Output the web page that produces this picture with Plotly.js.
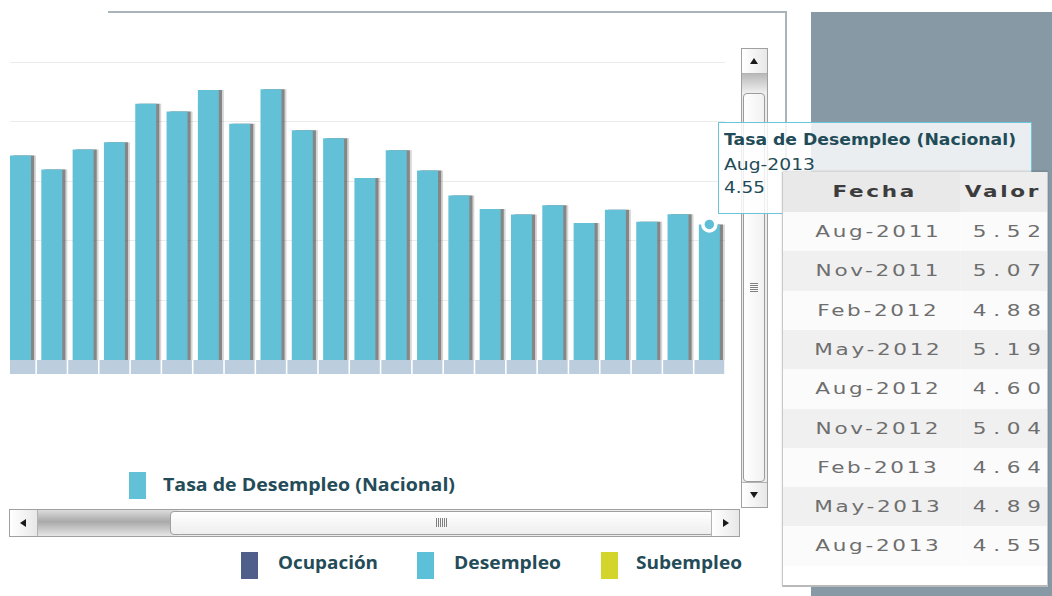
<!DOCTYPE html>
<html><head><meta charset="utf-8">
<script src="https://cdn.plot.ly/plotly-3.0.1.min.js"></script>
<style>
html,body{margin:0;padding:0;background:#fff;width:1052px;height:596px;overflow:hidden;position:relative;font-family:'DejaVu Sans',sans-serif;}
.abs{position:absolute;}
#chart{left:0;top:0;width:740px;height:400px;z-index:2;}
#panel{left:811px;top:12px;width:241px;height:584px;background:#8699a4;z-index:0;}
#frameTop{left:108px;top:11px;width:679px;height:2px;background:#a9b3b8;z-index:1;}
#frameRight{left:785px;top:11px;width:2px;height:540px;background:#a9b3b8;z-index:1;}
.txt{position:absolute;white-space:nowrap;line-height:20px;}
.leg{font-family:'Open Sans',sans-serif;font-weight:700;font-size:17px;color:#244c58;}
.sw{position:absolute;width:17px;height:27px;}
#tooltip{left:718px;top:122px;width:312px;height:90px;border:1.5px solid #6ac5db;background:rgba(255,255,255,0.83);z-index:4;}
.tt{font-family:'DejaVu Sans',sans-serif;font-size:16px;color:#1f4c58;z-index:5;}
#tablebox{left:782px;top:172px;width:264px;height:413px;border-left:1px solid #c9c9c9;border-right:1px solid #c9c9c9;border-bottom:2px solid #b9b9b9;background:#fff;z-index:6;box-shadow:0 -1px 2px rgba(0,0,0,0.15);overflow:hidden;}
#table{left:0;top:0;width:196px;height:413px;transform-origin:0 0;}
/* scrollbars */
#vscroll{left:741px;top:48px;width:25px;height:458px;border:1px solid #a0a0a0;background:#ececec;z-index:3;}
#hscroll{left:9px;top:509px;width:729px;height:26px;border:1px solid #a0a0a0;background:#ececec;z-index:3;}
.btn{position:absolute;background:linear-gradient(to right,#ffffff,#e8e8e8);}
.tri-up{position:absolute;width:0;height:0;border-left:4px solid transparent;border-right:4px solid transparent;border-bottom:6px solid #1a1a1a;}
.tri-down{position:absolute;width:0;height:0;border-left:4px solid transparent;border-right:4px solid transparent;border-top:6px solid #1a1a1a;}
.tri-left{position:absolute;width:0;height:0;border-top:4px solid transparent;border-bottom:4px solid transparent;border-right:6px solid #1a1a1a;}
.tri-right{position:absolute;width:0;height:0;border-top:4px solid transparent;border-bottom:4px solid transparent;border-left:6px solid #1a1a1a;}
</style>
</head>
<body>
<div id="panel" class="abs"></div>
<div id="frameTop" class="abs"></div>
<div id="frameRight" class="abs"></div>
<div id="chart" class="abs"></div>

<div id="vscroll" class="abs">
  <div class="btn" style="left:0;top:0;width:25px;height:24px;border-bottom:1px solid #b3b3b3;"><div class="tri-up" style="left:8px;top:9px;"></div></div>
  <div class="abs" style="left:0;top:25px;width:25px;height:20px;background:linear-gradient(to bottom,#b9b9b9,#f2f2f2);"></div>
  <div class="abs" style="left:1px;top:44px;width:20px;height:387px;border:1px solid #9c9c9c;border-radius:4px;background:linear-gradient(to right,#ffffff,#f1f1f1);">
    <div class="abs" style="left:6px;top:189px;width:8px;height:10px;background:repeating-linear-gradient(to bottom,#808080 0 1px,transparent 1px 2px);"></div>
  </div>
  <div class="btn" style="left:0;bottom:0;width:25px;height:24px;border-top:1px solid #b3b3b3;"><div class="tri-down" style="left:8px;top:9px;"></div></div>
</div>

<div id="hscroll" class="abs">
  <div class="btn" style="left:0;top:0;width:27px;height:26px;border-right:1px solid #b3b3b3;"><div class="tri-left" style="left:10px;top:9px;"></div></div>
  <div class="abs" style="left:28px;top:0;width:140px;height:26px;background:linear-gradient(to bottom,#dcdcdc,#a9a9a9 45%,#e6e6e6);"></div>
  <div class="abs" style="left:160px;top:1px;width:542px;height:22px;border:1px solid #a0a0a0;border-radius:4px;background:linear-gradient(to bottom,#ffffff,#eeeeee);">
    <div class="abs" style="left:265px;top:6px;width:12px;height:9px;background:repeating-linear-gradient(to right,#808080 0 1px,transparent 1px 2px);"></div>
  </div>
  <div class="btn" style="right:0;top:0;width:27px;height:26px;border-left:1px solid #b3b3b3;"><div class="tri-right" style="left:11px;top:9px;"></div></div>
</div>

<div id="legend1"></div>
<div id="legend2"></div>

<div id="tooltip" class="abs"></div>
<div id="ttText"></div>

<div id="tablebox" class="abs"><div id="table" class="abs"></div></div>

<script>
// ---------------- DATA ----------------
const categories = [
  'Feb-2008','May-2008','Aug-2008','Nov-2008',
  'Feb-2009','May-2009','Aug-2009','Nov-2009',
  'Feb-2010','May-2010','Aug-2010','Nov-2010',
  'Feb-2011','May-2011','Aug-2011','Nov-2011',
  'Feb-2012','May-2012','Aug-2012','Nov-2012',
  'Feb-2013','May-2013','Aug-2013'
];
const desempleo = [
  6.86, 6.39, 7.06, 7.31,
  8.60, 8.34, 9.06, 7.93,
  9.09, 7.71, 7.44, 6.11,
  7.04, 6.36, 5.52, 5.07,
  4.88, 5.19, 4.60, 5.04,
  4.64, 4.89, 4.55
];
const seriesName = 'Tasa de Desempleo (Nacional)';
const tableHeader = ['Fecha', 'Valor'];
const tableRowCount = 9;
const groupLegend = ['Ocupación', 'Desempleo', 'Subempleo'];

// ---------------- STYLE ----------------
const barColor = '#63c1d7';
const groupColors = ['#4f5e8b', '#5cc1d8', '#d3d52d'];

// ---------------- MAIN CHART ----------------
const barW = 0.67;
const traces = [
  {type:'bar', x:categories, y:desempleo, width:barW, offset:-barW/2+0.16,
   marker:{color:'rgba(90,90,90,0.25)', line:{width:0}}, hoverinfo:'skip'},
  {type:'bar', x:categories, y:desempleo, width:barW, offset:-barW/2+0.10,
   marker:{color:'rgba(80,80,80,0.6)', line:{width:0}}, hoverinfo:'skip'},
  {type:'bar', x:categories, y:desempleo, width:barW, name:seriesName,
   marker:{color:barColor, line:{width:0}}},
  {type:'bar', x:categories, y:categories.map(() => 1), yaxis:'y2', width:0.95,
   marker:{color:'#bccddd', line:{width:0}}, hoverinfo:'skip'},
  {type:'scatter', mode:'markers', x:[categories[categories.length-1]], y:[desempleo[desempleo.length-1]],
   marker:{size:13, color:'#5fbfd6', line:{color:'#ffffff', width:3.5}}, cliponaxis:false, hoverinfo:'skip'}
];
const layout = {
  width:740, height:400, margin:{l:10, r:15, t:0, b:0},
  paper_bgcolor:'rgba(0,0,0,0)', plot_bgcolor:'rgba(0,0,0,0)',
  showlegend:false, barmode:'overlay',
  xaxis:{type:'category', range:[-0.335, 22.5], showticklabels:false, showgrid:false, zeroline:false, showline:false, ticks:''},
  yaxis:{domain:[0.1, 0.875], range:[0, 10.403], dtick:2, showticklabels:false, gridcolor:'#ebebeb', gridwidth:1, zeroline:false, showline:false, ticks:''},
  yaxis2:{domain:[0.065, 0.1], range:[0, 1], anchor:'x', showgrid:false, showticklabels:false, zeroline:false, showline:false, ticks:''}
};
Plotly.newPlot('chart', traces, layout, {staticPlot:true, displayModeBar:false});

// ---------------- LEGENDS / TOOLTIP (HTML) ----------------
function addText(parent, text, cls, left, top, w, extra) {
  const d = document.createElement('div');
  d.className = 'txt ' + cls;
  d.textContent = text;
  d.style.left = left + 'px'; d.style.top = top + 'px';
  if (w) d.dataset.w = w;
  if (extra) Object.assign(d.style, extra);
  parent.appendChild(d);
  return d;
}
function addSwatch(parent, color, left, top) {
  const s = document.createElement('div');
  s.className = 'sw'; s.style.left = left + 'px'; s.style.top = top + 'px'; s.style.background = color;
  parent.appendChild(s);
}
const L1 = document.getElementById('legend1');
addSwatch(L1, barColor, 129, 472);
addText(L1, seriesName, 'leg', 163, 475, 292);

const L2 = document.getElementById('legend2');
const g2x = [241, 417, 601], g2t = [278, 454, 636], g2w = [100, 107, 106];
groupLegend.forEach((name, i) => {
  addSwatch(L2, groupColors[i], g2x[i], 552);
  addText(L2, name, 'leg', g2t[i], 553, g2w[i]);
});

const TT = document.getElementById('ttText');
addText(TT, seriesName, 'tt', 724, 130, 292, {fontWeight:'bold'});
addText(TT, categories[categories.length-1], 'tt', 724, 155, 91);
addText(TT, desempleo[desempleo.length-1].toFixed(2), 'tt', 724, 178, 41);

function fitAll() {
  document.querySelectorAll('[data-w]').forEach(el => {
    el.style.transform = 'none';
    const w = el.getBoundingClientRect().width;
    el.style.transformOrigin = '0 50%';
    el.style.transform = 'scaleX(' + (+el.dataset.w / w) + ')';
  });
}

// ---------------- TABLE ----------------
const tScale = 264 / 196;
document.getElementById('table').style.transform = 'scaleX(' + tScale + ')';
const tDates = categories.slice(-tableRowCount);
const tVals = desempleo.slice(-tableRowCount).map(v => v.toFixed(2));
const rowFill = tDates.map((_, i) => i % 2 === 0 ? '#fbfbfb' : '#f0f0f0');
Plotly.newPlot('table', [{
  type:'table', columnwidth:[132, 64],
  header:{values:tableHeader.map(h => '<b>' + h + '</b>'), align:['center','right'], height:40,
          fill:{color:['#e9e9e9','#ededed']}, line:{width:0, color:'rgba(0,0,0,0)'},
          font:{family:'DejaVu Sans', size:16, color:'#3c3c3c'}},
  cells:{values:[tDates, tVals], align:['center','right'], height:39.3,
         fill:{color:[rowFill, rowFill]}, line:{width:0, color:'rgba(0,0,0,0)'},
         font:{family:'DejaVu Sans', size:16, color:'#6e6e6e'}},
  domain:{x:[0,1], y:[0,1]}
}], {width:196, height:413, margin:{l:0, r:0, t:0, b:0}, paper_bgcolor:'#ffffff'},
 {staticPlot:true, displayModeBar:false}).then(() => {
  const cols = document.querySelectorAll('#table .y-column');
  cols.forEach((col, ci) => {
    col.querySelectorAll('text').forEach(t => {
      const isHead = tableHeader.indexOf(t.textContent.trim()) >= 0;
      const ls = isHead ? 2 : (ci === 0 ? 2 : 5);
      const dy = isHead ? 2 : 5;
      let dx = ci === 0 ? (ls / 2 + 3.8) : (ls + 3.5);
      if (isHead && ci === 0) dx += 1.5;
      if (isHead && ci === 1) dx += 5;
      t.style.letterSpacing = ls + 'px';
      t.style.transform = 'translate(' + dx + 'px,' + dy + 'px)';
    });
  });
});

(document.fonts ? document.fonts.ready : Promise.resolve()).then(fitAll);
fitAll();
</script>
</body></html>
